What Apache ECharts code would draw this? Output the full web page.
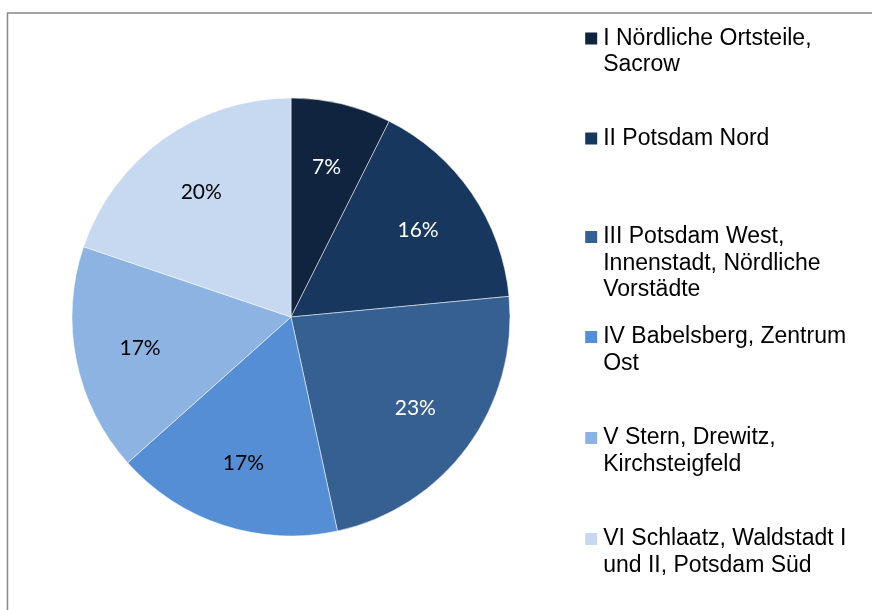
<!DOCTYPE html>
<html>
<head>
<meta charset="utf-8">
<script src="https://cdn.jsdelivr.net/npm/echarts@6/dist/echarts.min.js"></script>
<style>html,body{margin:0;padding:0;background:#fff;}#c{width:872px;height:610px;}</style>
</head>
<body>
<div id="c"></div>
<script>
// Data
const categories = [
  "I Nördliche Ortsteile,\nSacrow",
  "II Potsdam Nord",
  "III Potsdam West,\nInnenstadt, Nördliche\nVorstädte",
  "IV Babelsberg, Zentrum\nOst",
  "V Stern, Drewitz,\nKirchsteigfeld",
  "VI Schlaatz, Waldstadt I\nund II, Potsdam Süd"
];
const shares = [7.4, 16.1, 23.1, 16.8, 16.8, 19.8];

// Styles
const sliceColors = ["#10243f", "#17375e", "#366092", "#558ed5", "#8db3e2", "#c6d9f1"];
const labelColors = ["#ffffff", "#ffffff", "#ffffff", "#000000", "#000000", "#000000"];
const legendIconCenters = [38.5, 138.5, 237, 337, 438, 539];
const LH = 26.5;

const chart = echarts.init(document.getElementById('c'), null, {renderer: 'canvas'});

const pieData = categories.map((n, i) => ({
  name: n, value: shares[i], itemStyle: {color: sliceColors[i]}
}));
const labelData = categories.map((n, i) => ({
  name: n, value: shares[i],
  itemStyle: {color: 'rgba(0,0,0,0)'},
  label: {color: labelColors[i]}
}));

const legends = categories.map((n, i) => {
  const lines = n.split('\n').length;
  return {
    left: 583.2, top: legendIconCenters[i] - LH * (2 * lines - 1) / 2, padding: 0,
    itemWidth: 14, itemHeight: 14,
    icon: 'rect', selectedMode: false,
    data: [n],
    formatter: name => '\n'.repeat(lines - 1) + name,
    textStyle: {fontFamily: 'Liberation Sans', fontSize: 23, lineHeight: LH, color: '#000'}
  };
});

chart.setOption({
  animation: false,
  backgroundColor: '#fff',
  color: sliceColors,
  graphic: [{
    type: 'rect', shape: {x: 7.5, y: 13, width: 900, height: 700},
    style: {fill: 'none', stroke: '#888888', lineWidth: 1.5}, silent: true
  }],
  legend: legends,
  series: [{
    type: 'pie', center: [291, 317], radius: [0, 219],
    startAngle: 90, clockwise: true, label: {show: false}, labelLine: {show: false},
    itemStyle: {borderColor: '#ffffff', borderWidth: 0.5},
    emphasis: {disabled: true},
    data: pieData
  }, {
    type: 'pie', center: [291, 317], radius: [83, 219],
    startAngle: 90, clockwise: true, silent: true,
    label: {show: true, position: 'inside', fontFamily: 'Lato', fontSize: 21,
      formatter: p => Math.round(p.percent) + '%'},
    labelLine: {show: false},
    emphasis: {disabled: true},
    data: labelData
  }]
});
</script>
</body>
</html>
